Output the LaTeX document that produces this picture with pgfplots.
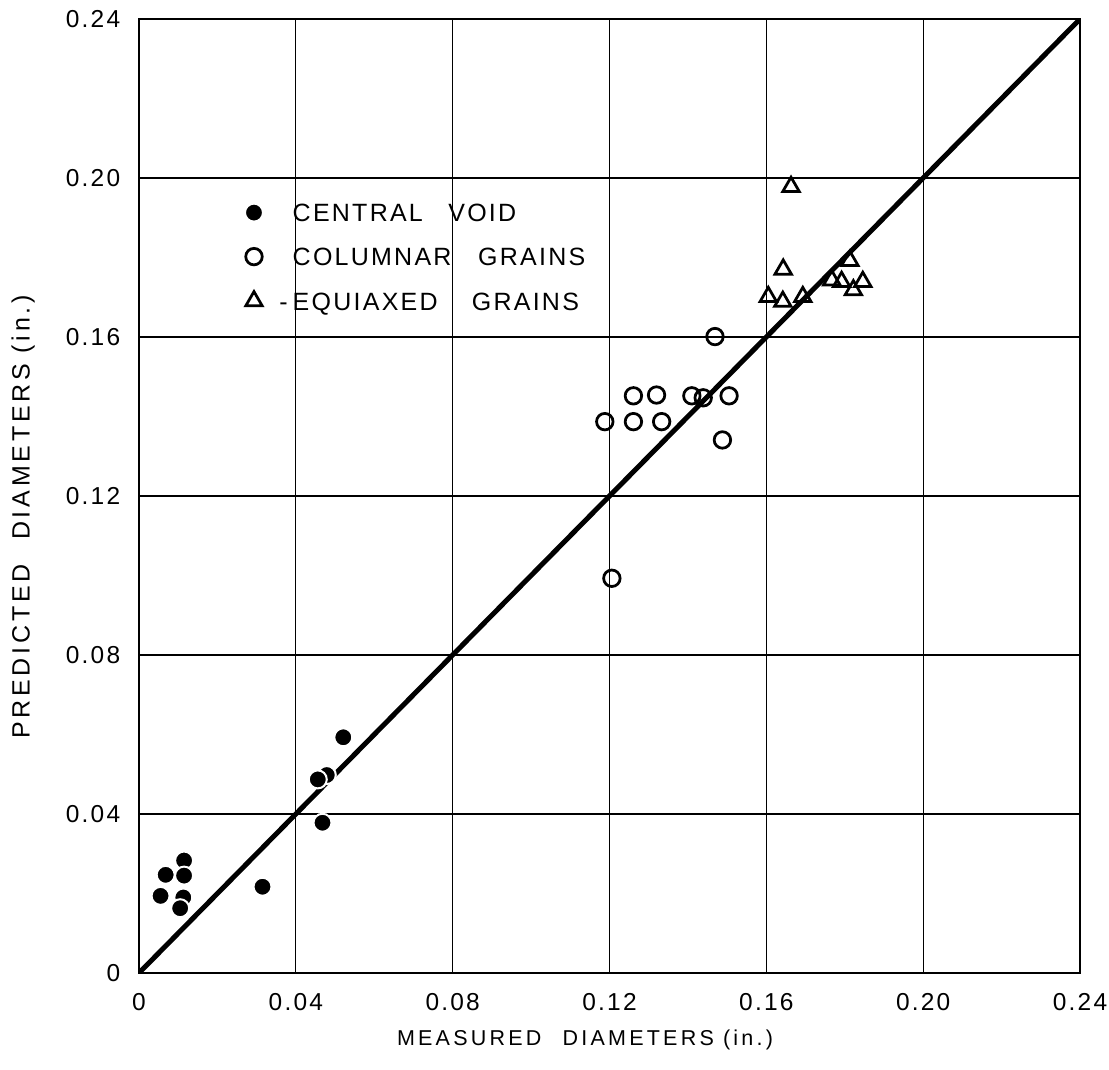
\documentclass[border=0pt]{standalone}
\usepackage{fontspec}
\setmainfont{Liberation Sans}[LetterSpace=15]
\newfontfamily\tickfont{Liberation Sans}[LetterSpace=9]
\newfontfamily\legfont{Liberation Sans}[LetterSpace=9]
\usepackage{pgfplots}
\pgfplotsset{compat=1.18}
\begin{document}
\begin{tikzpicture}
\begin{axis}[
  scale only axis,
  width=376.4pt, height=381.6pt,
  xmin=0, xmax=0.24, ymin=0, ymax=0.24,
  xtick={0,0.04,0.08,0.12,0.16,0.20,0.24},
  ytick={0,0.04,0.08,0.12,0.16,0.20,0.24},
  xticklabels={0,0.04,0.08,0.12,0.16,0.20,0.24},
  yticklabels={0,0.04,0.08,0.12,0.16,0.20,0.24},
  /pgf/number format/assume math mode=true,
  major tick length=0pt,
  grid=major,
  major grid style={line width=0.5pt, black},
  axis line style={line width=1.1pt},
  ticklabel style={font=\tickfont\fontsize{9.8}{11}\selectfont},
  xticklabel style={yshift=-4.5pt},
  yticklabel style={xshift=-4pt},
  xlabel={MEASURED\hspace{4.8pt} DIAMETERS (in.)},
  ylabel={PREDICTED\hspace{5.5pt} DIAMETERS (in.)},
  xlabel style={font=\fontsize{8.6}{10}\selectfont, at={(axis description cs:0.474,-0.0702)}, anchor=center},
  ylabel style={font=\fontsize{10}{12}\selectfont, at={(axis description cs:-0.1232,0.478)}, anchor=center},
  legend cell align=left,
  legend image code/.code={\path (0pt,0pt) (16pt,0pt); \draw[#1,mark repeat=2,mark phase=2] plot coordinates {(0pt,0pt)(4pt,0pt)(16pt,0pt)};},
  legend style={draw=none, fill=none, inner sep=0pt, at={(rel axis cs:0.1105,0.807)}, anchor=north west,
    font=\legfont\fontsize{10}{12}\selectfont, row sep=10.4pt,
    nodes={inner sep=0pt, text height=7.2pt, text depth=0pt}},
]
\addplot[line width=2pt, forget plot] coordinates {(0,0) (0.24,0.24)};
% central void
\addplot[only marks, mark=*, mark size=3.6pt, mark options={fill=black, draw=white, line width=0.8pt}] coordinates {
(0.0521,0.0593) (0.0479,0.0498) (0.0456,0.0487) (0.0468,0.0378)
(0.0115,0.0283) (0.0068,0.0247) (0.0115,0.0245) (0.0055,0.0194)
(0.0113,0.0190) (0.0105,0.0163) (0.0315,0.0217)};
\addlegendentry{\hspace{3.3pt}CENTRAL\hspace{6.5pt} VOID}
% columnar grains
\addplot[only marks, mark=o, mark size=3.3pt, mark options={fill=white, draw=black, line width=1.1pt}] coordinates {
(0.1469,0.1601) (0.1261,0.1452) (0.1320,0.1454) (0.1410,0.1452)
(0.1439,0.1447) (0.1505,0.1452) (0.1188,0.1387) (0.1261,0.1387)
(0.1333,0.1387) (0.1488,0.1341) (0.1206,0.0993)};
\addlegendentry{\hspace{3.3pt}COLUMNAR\hspace{7pt} GRAINS}
% equiaxed grains
\addplot[only marks, mark=triangle, mark size=3.8pt, mark options={fill=white, draw=black, line width=1.1pt}] coordinates {
(0.1663,0.1978) (0.1643,0.1770) (0.1605,0.1701) (0.1642,0.1689)
(0.1693,0.1701) (0.1813,0.1792) (0.1767,0.1743) (0.1792,0.1739)
(0.1822,0.1718) (0.1846,0.1739)};
\addlegendentry{\hspace{3.3pt}\llap{-\hspace{2pt}}EQUIAXED\hspace{10pt} GRAINS}
\coordinate (sw) at (rel axis cs:0,0);
\coordinate (ne) at (rel axis cs:1,1);
\end{axis}
\pgfresetboundingbox
\path ([shift={(-55.6pt,-38.4pt)}]sw) rectangle ([shift={(11.6pt,7.6pt)}]ne);
\end{tikzpicture}
\end{document}
